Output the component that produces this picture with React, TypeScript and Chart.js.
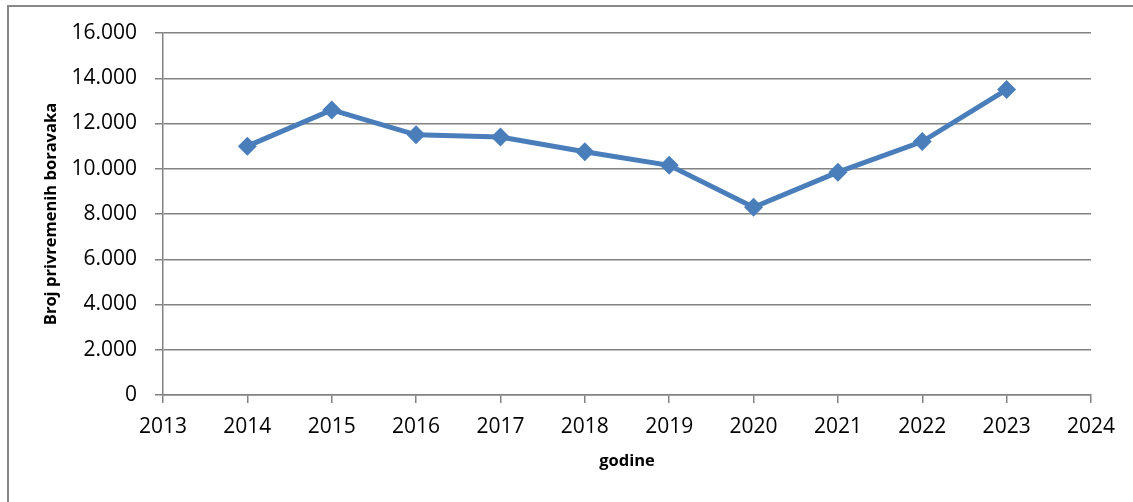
import React, { useEffect, useRef } from "react";
import { Chart, registerables } from "chart.js";

Chart.register(...registerables);

const years = [2014, 2015, 2016, 2017, 2018, 2019, 2020, 2021, 2022, 2023];
const stays = [11000, 12600, 11500, 11400, 10750, 10150, 8300, 9850, 11200, 13500];
const yAxisTitle = "Broj privremenih boravaka";
const xAxisTitle = "godine";

const fmt = (v: number) => String(Math.round(v)).replace(/\B(?=(\d{3})+(?!\d))/g, ".");

export default function App() {
  const ref = useRef<HTMLCanvasElement | null>(null);
  useEffect(() => {
    if (!ref.current) return;
    const gray = "#828282";
    const chart = new Chart(ref.current, {
      type: "line",
      data: {
        datasets: [
          {
            data: years.map((y, i) => ({ x: y, y: stays[i] })),
            borderColor: "#4A7EBB",
            backgroundColor: "#4A7EBB",
            borderWidth: 5,
            pointStyle: "rectRot",
            pointRadius: 9.5,
            pointBorderWidth: 0,
            pointBackgroundColor: "#4A7EBB",
            tension: 0,
          },
        ],
      },
      options: {
        animation: false,
        responsive: false,
        layout: { padding: { left: 0, top: 33, right: 42, bottom: 0 } },
        plugins: { legend: { display: false }, tooltip: { enabled: false } },
        scales: {
          x: {
            type: "linear",
            min: 2013,
            max: 2024,
            ticks: {
              stepSize: 1,
              color: "#000",
              font: { family: "'Open Sans'", size: 21 },
              padding: 11,
              callback: (v: any) => String(v),
            },
            grid: { drawOnChartArea: false, drawTicks: true, tickLength: 8, color: gray, lineWidth: 1.5 },
            border: { display: true, color: gray, width: 1.5 },
            title: {
              display: true,
              text: xAxisTitle,
              color: "#000",
              font: { family: "'Open Sans'", size: 16.5, weight: "bold" },
              padding: { top: 0, bottom: 31 },
            },
            afterFit: (s: any) => {
              s.height = 107;
            },
          },
          y: {
            min: 0,
            max: 16000,
            ticks: {
              stepSize: 2000,
              color: "#000",
              font: { family: "'Open Sans'", size: 21 },
              padding: 18,
              callback: (v: any) => fmt(Number(v)),
            },
            grid: { color: gray, lineWidth: 1.5, tickLength: 8 },
            border: { display: true, color: gray, width: 1.5 },
            title: {
              display: true,
              text: yAxisTitle,
              color: "#000",
              font: { family: "'Open Sans'", size: 16.5, weight: "bold" },
              padding: { top: 41, bottom: 0 },
            },
            afterFit: (s: any) => {
              s.width = 163;
            },
          },
        },
      },
    } as any);
    return () => chart.destroy();
  }, []);
  return (
    <div style={{ position: "absolute", left: 0, top: 0, width: 1133, height: 502, overflow: "hidden", background: "#fff" }}>
      <div
        style={{
          position: "absolute",
          left: 7,
          top: 5,
          width: 1200,
          height: 600,
          borderLeft: "2px solid #888",
          borderTop: "2px solid #888",
        }}
      />
      <canvas ref={ref} width={1133} height={502} style={{ position: "absolute", left: 0, top: 0 }} />
    </div>
  );
}
